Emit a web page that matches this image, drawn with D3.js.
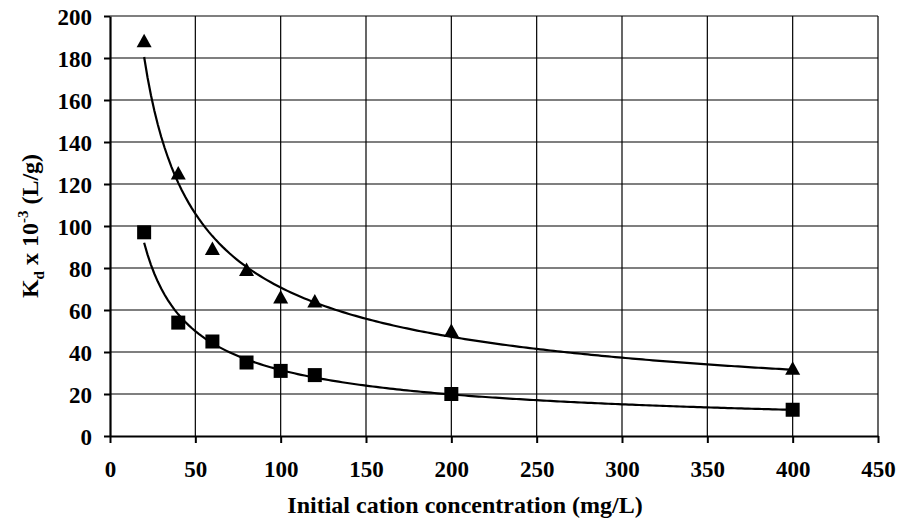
<!DOCTYPE html>
<html>
<head>
<meta charset="utf-8">
<script src="https://cdn.jsdelivr.net/npm/d3@7"></script>
<style>
  body { margin: 0; background: #fff; }
  text { font-family: "Liberation Serif", "Times New Roman", serif; font-weight: bold; fill: #000; }
</style>
</head>
<body>
<svg id="chart"></svg>
<script>
// Initial cation concentration (mg/L)
const concentrations = [20, 40, 60, 80, 100, 120, 200, 400];
// Kd x 10^-3 (L/g), upper series (triangles)
const kdTriangle = [188, 125, 89, 79, 66, 64, 50, 32];
// Kd x 10^-3 (L/g), lower series (squares)
const kdSquare = [97, 54, 45, 35, 31, 29, 20, 12.5];
const xTicks = [0, 50, 100, 150, 200, 250, 300, 350, 400, 450];
const yTicks = [0, 20, 40, 60, 80, 100, 120, 140, 160, 180, 200];

const width = 900;
const height = 526;
const margin = {top: 16, right: 22, bottom: 90, left: 110};

const svg = d3.select('#chart')
    .attr('width', width)
    .attr('height', height);

const x = d3.scaleLinear().domain([0, 450])
    .range([margin.left, width - margin.right]);
const y = d3.scaleLinear().domain([0, 200])
    .range([height - margin.bottom, margin.top]);

// Power-law trendline fitted in log-log space (least squares)
function powerFit(xs, ys) {
  const lx = xs.map(Math.log);
  const ly = ys.map(Math.log);
  const mx = d3.mean(lx);
  const my = d3.mean(ly);
  const sxy = d3.sum(lx, (v, i) => (v - mx) * (ly[i] - my));
  const sxx = d3.sum(lx, (v) => (v - mx) * (v - mx));
  const b = sxy / sxx;
  const a = Math.exp(my - b * mx);
  return (v) => a * Math.pow(v, b);
}

// gridlines
svg.append('g')
    .selectAll('line')
    .data(xTicks.slice(1))
    .join('line')
    .attr('x1', (d) => x(d)).attr('x2', (d) => x(d))
    .attr('y1', y(0)).attr('y2', y(200))
    .attr('stroke', '#000').attr('stroke-width', 1.2);
svg.append('g')
    .selectAll('line')
    .data(yTicks.slice(1))
    .join('line')
    .attr('x1', x(0)).attr('x2', x(450))
    .attr('y1', (d) => y(d)).attr('y2', (d) => y(d))
    .attr('stroke', '#000').attr('stroke-width', 1.2);

// axes
const xAxis = svg.append('g')
    .attr('transform', `translate(0,${y(0)})`)
    .call(d3.axisBottom(x).tickValues(xTicks).tickSize(7).tickSizeOuter(0).tickPadding(18));
const yAxis = svg.append('g')
    .attr('transform', `translate(${x(0)},0)`)
    .call(d3.axisLeft(y).tickValues(yTicks).tickSize(6).tickSizeOuter(0).tickPadding(12));
[xAxis, yAxis].forEach((g) => {
  g.select('.domain').attr('stroke', '#000').attr('stroke-width', 2.2);
  g.selectAll('.tick line').attr('stroke', '#000').attr('stroke-width', 2);
  g.selectAll('.tick text')
      .style('font-family', '"Liberation Serif", serif')
      .style('font-weight', 'bold')
      .style('font-size', '23px');
});
yAxis.selectAll('.tick text').attr('dy', '0.35em');

// trend curves
const curveXs = d3.range(20, 400.5, 2);
const line = d3.line().x((d) => x(d[0])).y((d) => y(d[1]));
[kdTriangle, kdSquare].forEach((series) => {
  const f = powerFit(concentrations, series);
  svg.append('path')
      .attr('fill', 'none')
      .attr('stroke', '#000')
      .attr('stroke-width', 2.2)
      .attr('d', line(curveXs.map((v) => [v, f(v)])));
});

// markers
svg.append('g')
    .selectAll('path')
    .data(kdTriangle)
    .join('path')
    .attr('transform', (d, i) => `translate(${x(concentrations[i])},${y(d)})`)
    .attr('d', 'M0,-7.5L7.5,6L-7.5,6Z')
    .attr('fill', '#000');
svg.append('g')
    .selectAll('rect')
    .data(kdSquare)
    .join('rect')
    .attr('x', (d, i) => x(concentrations[i]) - 7)
    .attr('y', (d) => y(d) - 7)
    .attr('width', 14).attr('height', 14)
    .attr('fill', '#000');

// axis titles
svg.append('text')
    .attr('x', 465)
    .attr('y', 513)
    .attr('text-anchor', 'middle')
    .style('font-size', '24px')
    .text('Initial cation concentration (mg/L)');

const yt = svg.append('text')
    .attr('transform', `translate(38,${(y(0) + y(200)) / 2}) rotate(-90)`)
    .attr('text-anchor', 'middle')
    .style('font-size', '24px');
yt.append('tspan').text('K');
yt.append('tspan').attr('dy', 6).style('font-size', '15px').text('d');
yt.append('tspan').attr('dy', -6).text(' x 10');
yt.append('tspan').attr('dy', -10).style('font-size', '15px').text('-3');
yt.append('tspan').attr('dy', 10).text(' (L/g)');
</script>
</body>
</html>
